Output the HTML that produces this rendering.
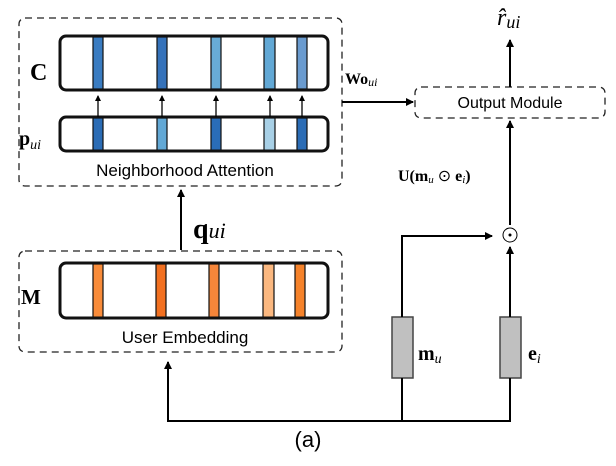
<!DOCTYPE html>
<html><head><meta charset="utf-8"><style>body{margin:0;background:#fff}</style></head><body>
<svg width="616" height="461" viewBox="0 0 616 461" xmlns="http://www.w3.org/2000/svg" font-family="Liberation Sans, sans-serif">
<defs><marker id="a" markerWidth="8" markerHeight="8" refX="7" refY="4" orient="auto" markerUnits="userSpaceOnUse"><path d="M0,0 L8,4 L0,8 z" fill="#000"/></marker>
<marker id="s" markerWidth="6" markerHeight="6" refX="5" refY="3" orient="auto" markerUnits="userSpaceOnUse"><path d="M0,0 L6,3 L0,6 z" fill="#000"/></marker></defs>
<g fill="none" stroke="#222" stroke-width="1.3" stroke-dasharray="7,5">
<rect x="19" y="18" width="323" height="168" rx="6"/>
<rect x="19" y="251" width="323" height="101" rx="6"/>
<rect x="415" y="87" width="190" height="31" rx="6"/>
</g>
<g stroke="#111" stroke-width="1.2">
<rect x="93" y="37" width="10" height="52" fill="#3a7cc1"/>
<rect x="157" y="37" width="10" height="52" fill="#3572ba"/>
<rect x="211" y="37" width="10" height="52" fill="#68acd6"/>
<rect x="264" y="37" width="11" height="52" fill="#62a8d5"/>
<rect x="297" y="37" width="10" height="52" fill="#6a9bcf"/>
<rect x="93" y="118" width="10" height="33" fill="#2b6cb5"/>
<rect x="157" y="118" width="10" height="33" fill="#62a8d5"/>
<rect x="211" y="118" width="10" height="33" fill="#2a6db8"/>
<rect x="264" y="118" width="11" height="33" fill="#a8d0e6"/>
<rect x="297" y="118" width="10" height="33" fill="#2b6cb5"/>
<rect x="93" y="264" width="10" height="54" fill="#f98c3a"/>
<rect x="156" y="264" width="10" height="54" fill="#f27020"/>
<rect x="209" y="264" width="10" height="54" fill="#f7863a"/>
<rect x="263" y="264" width="11" height="54" fill="#fbb880"/>
<rect x="295" y="264" width="10" height="54" fill="#f5822a"/>
</g>
<g fill="none" stroke="#111" stroke-width="3">
<rect x="60" y="36" width="268" height="54" rx="6"/>
<rect x="60" y="117" width="268" height="34" rx="6"/>
<rect x="60" y="263" width="268" height="55" rx="6"/>
</g>
<g stroke="#000" stroke-width="1.3" marker-end="url(#s)">
<line x1="98" y1="117" x2="98" y2="96"/><line x1="162" y1="117" x2="162" y2="96"/>
<line x1="216" y1="117" x2="216" y2="96"/><line x1="270" y1="117" x2="270" y2="96"/>
<line x1="302" y1="117" x2="302" y2="96"/>
</g>
<text x="185" y="176" font-size="17" text-anchor="middle">Neighborhood Attention</text>
<text x="185" y="343" font-size="17" text-anchor="middle">User Embedding</text>
<text x="510" y="108" font-size="16" text-anchor="middle">Output Module</text>
<g font-family="Liberation Serif, serif">
<text x="30" y="80" font-size="24" font-weight="bold">C</text>
<text x="19" y="145" font-size="20" font-weight="bold">p<tspan font-size="14" font-style="italic" font-weight="normal" dy="4">ui</tspan></text>
<text x="21" y="304" font-size="21" font-weight="bold">M</text>
<text x="193" y="238" font-size="28" font-weight="bold">q<tspan font-size="22" font-style="italic" font-weight="normal">ui</tspan></text>
<text x="345" y="84" font-size="16" font-weight="bold">Wo<tspan font-size="12" font-style="italic" font-weight="normal" dy="2">ui</tspan></text>
<text x="398" y="181" font-size="16" font-weight="bold">U(m<tspan font-size="11" font-style="italic" font-weight="normal" dy="2">u</tspan><tspan dy="-2" font-weight="normal"> ⊙ </tspan>e<tspan font-size="11" font-style="italic" font-weight="normal" dy="2">i</tspan><tspan dy="-2">)</tspan></text>
<text x="497" y="25" font-size="24" font-style="italic">r̂<tspan font-size="18" dy="3">ui</tspan></text>
<text x="418" y="360" font-size="20" font-weight="bold">m<tspan font-size="14" font-style="italic" font-weight="normal" dy="3">u</tspan></text>
<text x="528" y="360" font-size="20" font-weight="bold">e<tspan font-size="14" font-style="italic" font-weight="normal" dy="3">i</tspan></text>
</g>
<circle cx="510" cy="235" r="7" fill="none" stroke="#000" stroke-width="1"/><circle cx="510" cy="235" r="1.5" fill="#000"/>
<g fill="#c0c0c0" stroke="#444" stroke-width="1.5">
<rect x="392" y="317" width="21" height="61"/><rect x="500" y="317" width="21" height="61"/>
</g>
<g fill="none" stroke="#000" stroke-width="2" marker-end="url(#a)">
<line x1="181" y1="250" x2="181" y2="190"/>
<line x1="342" y1="102" x2="413" y2="102"/>
<line x1="510" y1="87" x2="510" y2="40"/>
<line x1="510" y1="225" x2="510" y2="121"/>
<polyline points="402,317 402,236 492,236"/>
<line x1="510" y1="317" x2="510" y2="247"/>
<polyline points="510,378 510,421 168,421 168,362"/>
</g>
<line x1="402" y1="378" x2="402" y2="421" stroke="#000" stroke-width="2"/>
<text x="308" y="447" font-size="22" text-anchor="middle">(a)</text>
</svg>
</body></html>
